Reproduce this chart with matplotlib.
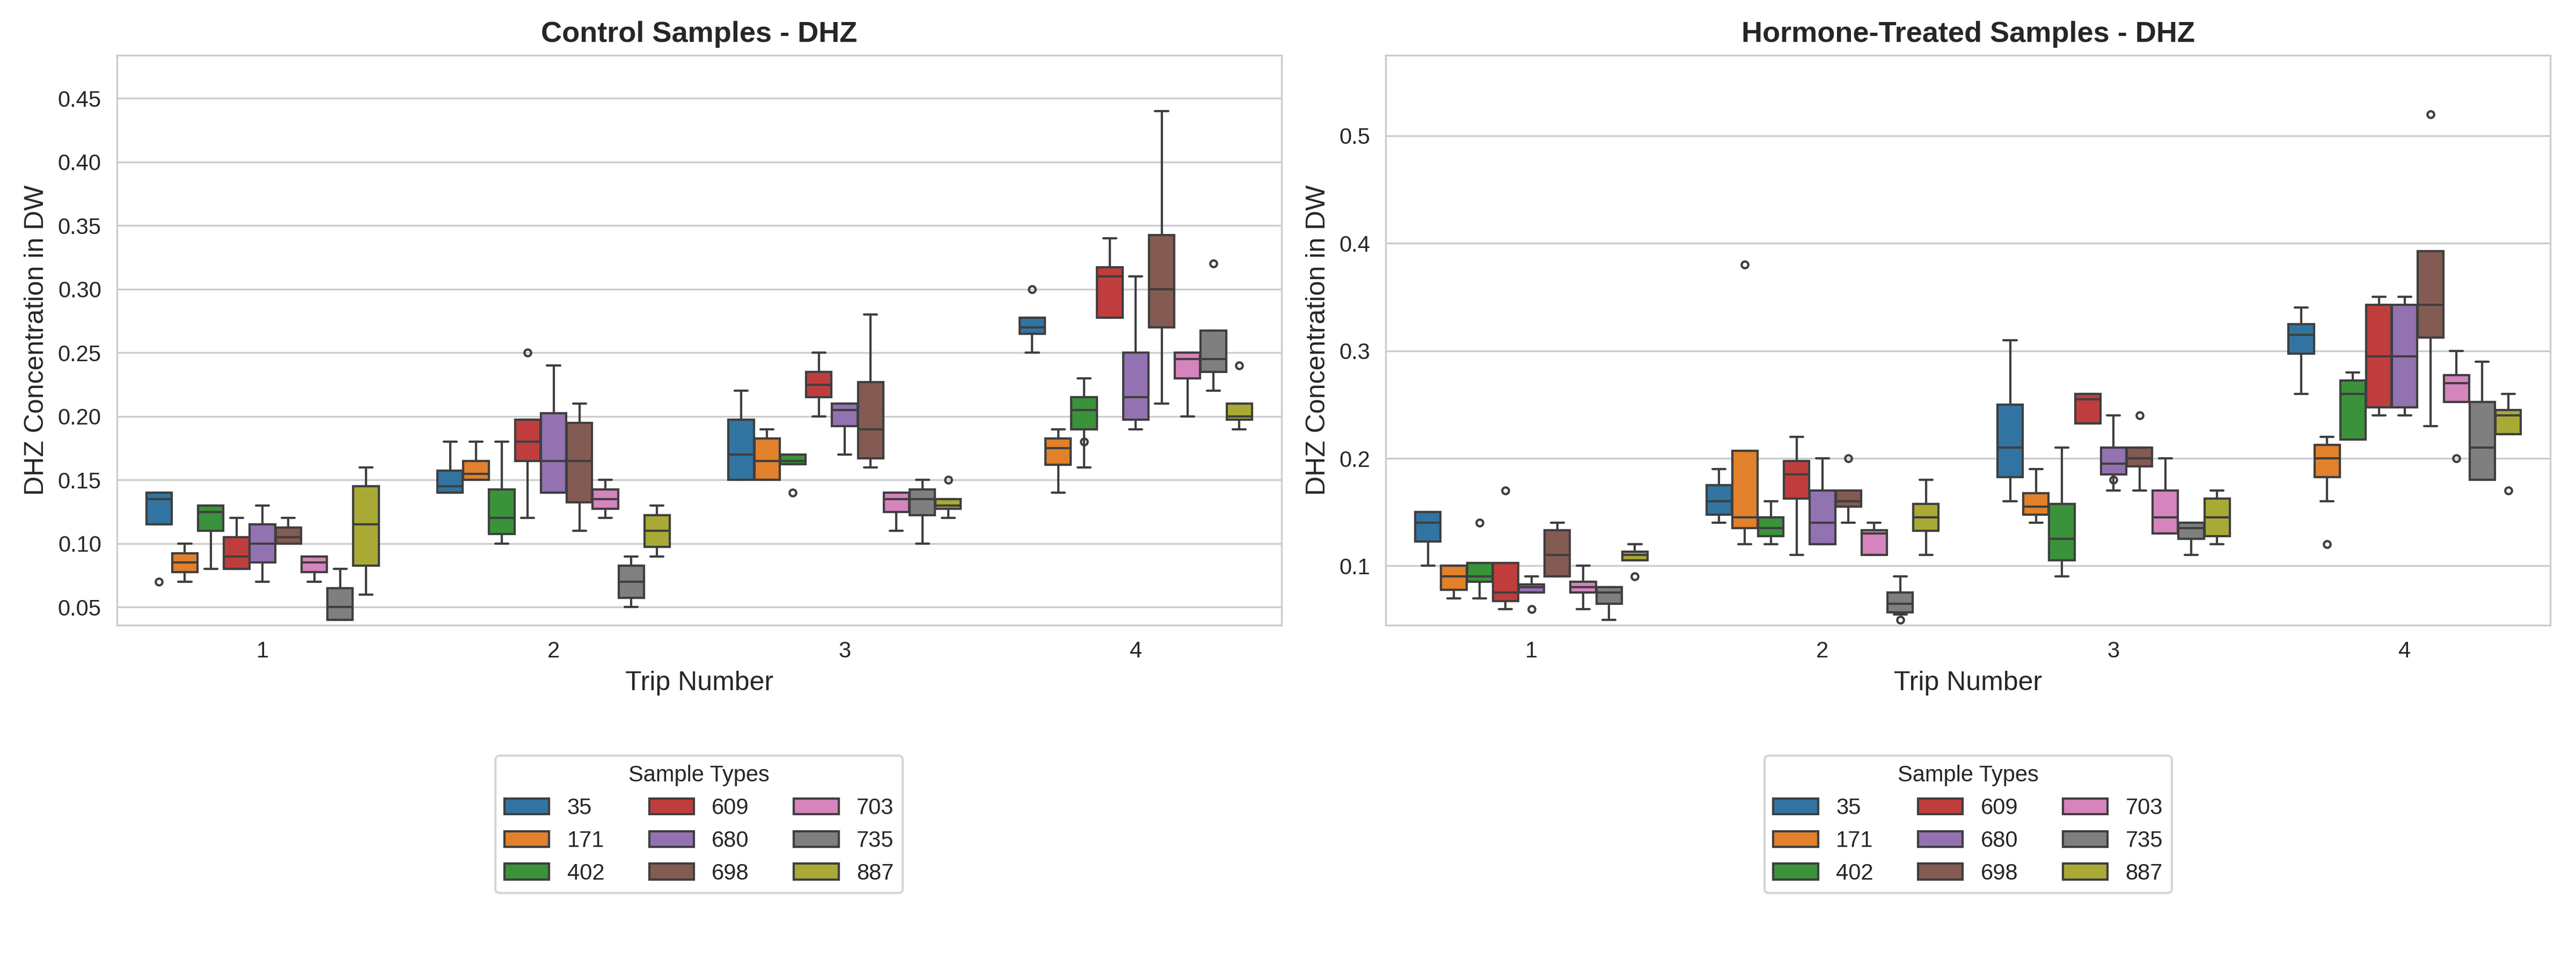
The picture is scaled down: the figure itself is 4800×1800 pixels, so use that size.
import matplotlib
matplotlib.use("Agg")
import matplotlib.pyplot as plt
import seaborn as sns
from matplotlib.patches import Patch

sns.set_style("whitegrid")
plt.rcParams['font.family'] = ['Liberation Sans', 'DejaVu Sans']

trips = [1, 2, 3, 4]
sample_types = ["35", "171", "402", "609", "680", "698", "703", "735", "887"]

# each entry: (whislo, q1, med, q3, whishi, fliers) per sample type, per trip
control_stats = [
    [(0.115,0.115,0.135,0.14,0.14,[0.07]), (0.07,0.0775,0.085,0.0925,0.10,[]), (0.08,0.11,0.125,0.13,0.13,[]),
     (0.08,0.08,0.09,0.105,0.12,[]), (0.07,0.085,0.10,0.115,0.13,[]), (0.10,0.10,0.105,0.1125,0.12,[]),
     (0.07,0.0775,0.085,0.09,0.09,[]), (0.04,0.04,0.05,0.065,0.08,[]), (0.06,0.0825,0.115,0.145,0.16,[])],
    [(0.14,0.14,0.145,0.1575,0.18,[]), (0.15,0.15,0.155,0.165,0.18,[]), (0.10,0.1075,0.12,0.1425,0.18,[]),
     (0.12,0.165,0.18,0.1975,0.1975,[0.25]), (0.14,0.14,0.165,0.2025,0.24,[]), (0.11,0.1325,0.165,0.195,0.21,[]),
     (0.12,0.1275,0.135,0.1425,0.15,[]), (0.05,0.0575,0.07,0.0825,0.09,[]), (0.09,0.0975,0.11,0.1225,0.13,[])],
    [(0.15,0.15,0.17,0.1975,0.22,[]), (0.15,0.15,0.165,0.1825,0.19,[]), (0.1625,0.1625,0.165,0.17,0.17,[0.14]),
     (0.20,0.215,0.225,0.235,0.25,[]), (0.17,0.1925,0.205,0.21,0.21,[]), (0.16,0.167,0.19,0.227,0.28,[]),
     (0.11,0.125,0.135,0.14,0.14,[]), (0.10,0.1225,0.135,0.1425,0.15,[]), (0.12,0.1275,0.13,0.135,0.135,[0.15])],
    [(0.25,0.265,0.27,0.2775,0.2775,[0.30]), (0.14,0.162,0.175,0.1825,0.19,[]), (0.16,0.19,0.205,0.215,0.23,[0.18]),
     (0.2775,0.2775,0.31,0.317,0.34,[]), (0.19,0.1975,0.215,0.25,0.31,[]), (0.21,0.27,0.30,0.3425,0.44,[]),
     (0.20,0.23,0.245,0.25,0.25,[]), (0.22,0.235,0.245,0.2675,0.2675,[0.32]), (0.19,0.1975,0.20,0.21,0.21,[0.24])],
]

hormone_stats = [
    [(0.10,0.1225,0.14,0.15,0.15,[]), (0.07,0.0775,0.09,0.10,0.10,[]), (0.07,0.085,0.09,0.1025,0.1025,[0.14]),
     (0.06,0.0675,0.075,0.1025,0.1025,[0.17]), (0.075,0.075,0.08,0.0825,0.09,[0.06]), (0.09,0.09,0.11,0.133,0.14,[]),
     (0.06,0.075,0.08,0.085,0.10,[]), (0.05,0.065,0.075,0.08,0.08,[]), (0.105,0.105,0.11,0.113,0.12,[0.09])],
    [(0.14,0.1475,0.16,0.175,0.19,[]), (0.12,0.135,0.145,0.207,0.207,[0.38]), (0.12,0.1275,0.135,0.145,0.16,[]),
     (0.11,0.1625,0.185,0.1975,0.22,[]), (0.12,0.12,0.14,0.17,0.20,[]), (0.14,0.155,0.16,0.17,0.17,[0.20]),
     (0.11,0.11,0.13,0.133,0.14,[]), (0.055,0.057,0.065,0.075,0.09,[0.05]), (0.11,0.1325,0.145,0.1575,0.18,[])],
    [(0.16,0.1825,0.21,0.25,0.31,[]), (0.14,0.1475,0.155,0.1675,0.19,[]), (0.09,0.105,0.125,0.1575,0.21,[]),
     (0.2325,0.2325,0.255,0.26,0.26,[]), (0.17,0.185,0.195,0.21,0.24,[0.18]), (0.17,0.1925,0.20,0.21,0.21,[0.24]),
     (0.13,0.13,0.145,0.17,0.20,[]), (0.11,0.125,0.135,0.14,0.14,[]), (0.12,0.1275,0.145,0.1625,0.17,[])],
    [(0.26,0.2975,0.315,0.325,0.34,[]), (0.16,0.1825,0.20,0.2125,0.22,[0.12]), (0.2175,0.2175,0.26,0.2725,0.28,[]),
     (0.24,0.2475,0.295,0.3425,0.35,[]), (0.24,0.2475,0.295,0.3425,0.35,[]), (0.23,0.3125,0.3425,0.3925,0.3925,[0.52]),
     (0.2525,0.2525,0.27,0.2775,0.30,[0.20]), (0.18,0.18,0.21,0.2525,0.29,[]), (0.2225,0.2225,0.24,0.245,0.26,[0.17])],
]

titles = ["Control Samples - DHZ", "Hormone-Treated Samples - DHZ"]
ylims = [(0.036, 0.484), (0.045, 0.575)]
yticks = [[0.05,0.10,0.15,0.20,0.25,0.30,0.35,0.40,0.45], [0.1,0.2,0.3,0.4,0.5]]
yfmt = ["{:.2f}", "{:.1f}"]

colors = [sns.desaturate(c, 0.75) for c in sns.color_palette("tab10", 9)]
edge = "#3f3f3f"
n = len(sample_types)
w = 0.8 / n

fig = plt.figure(figsize=(16, 6), dpi=300)
axes = [fig.add_axes([0.0454, 0.353, 0.452, 0.59]), fig.add_axes([0.538, 0.353, 0.452, 0.59])]

for ax, stats_all, title, yl, yt, fm in zip(axes, [control_stats, hormone_stats], titles, ylims, yticks, yfmt):
    for ti, trip_stats in enumerate(stats_all):
        for si, (lo, q1, med, q3, hi, fl) in enumerate(trip_stats):
            pos = ti - 0.4 + w * (si + 0.5)
            s = dict(whislo=lo, q1=q1, med=med, q3=q3, whishi=hi, fliers=fl)
            ax.bxp([s], positions=[pos], widths=w * 0.98, patch_artist=True, showfliers=True,
                   boxprops=dict(facecolor=colors[si], edgecolor=edge, linewidth=1.0),
                   medianprops=dict(color=edge, linewidth=1.0),
                   whiskerprops=dict(color=edge, linewidth=1.0),
                   capprops=dict(color=edge, linewidth=1.0),
                   capwidths=w * 0.5,
                   flierprops=dict(marker='o', markersize=3, markerfacecolor='none',
                                   markeredgecolor=edge, markeredgewidth=1.0))
    ax.set_xlim(-0.5, 3.5)
    ax.set_xticks(range(len(trips)))
    ax.set_xticklabels([str(t) for t in trips])
    ax.set_ylim(*yl)
    ax.set_yticks(yt)
    ax.set_yticklabels([fm.format(v) for v in yt])
    ax.grid(axis='x', visible=False)
    ax.set_title(title, fontsize=13, fontweight='bold')
    ax.set_xlabel("Trip Number", fontsize=12)
    ax.set_ylabel("DHZ Concentration in DW", fontsize=12)
    ax.tick_params(labelsize=10)
    handles = [Patch(facecolor=colors[i], edgecolor=edge, label=sample_types[i]) for i in range(n)]
    ax.legend(handles=handles, title="Sample Types", loc='upper center', bbox_to_anchor=(0.5, -0.21),
              ncol=3, fontsize=10, title_fontsize=10, frameon=True)

fig.savefig("out.png", dpi=300)
